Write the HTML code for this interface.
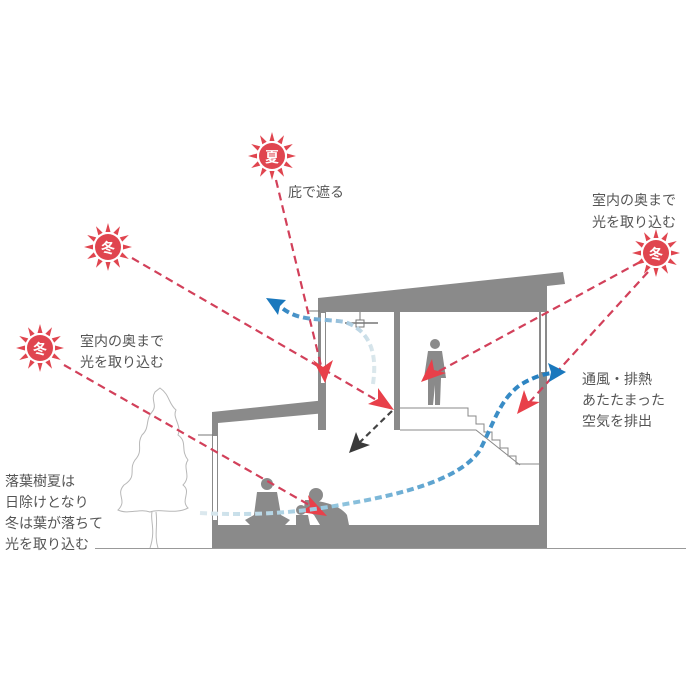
<!DOCTYPE html>
<html><head><meta charset="utf-8"><style>
html,body{margin:0;padding:0;background:#fff;}
svg{display:block;}
text{font-family:"Liberation Sans","Noto Sans CJK JP",sans-serif;fill:#555;font-size:14px;}
</style></head><body>
<svg width="686" height="686" viewBox="0 0 686 686" xmlns="http://www.w3.org/2000/svg">
<defs>
<g id="sun">
 <g fill="#e0454f">
  <polygon points="-2.5,-15 2.5,-15 0,-24"/>
  <polygon points="-2.5,-15 2.5,-15 0,-24" transform="rotate(30)"/>
  <polygon points="-2.5,-15 2.5,-15 0,-24" transform="rotate(60)"/>
  <polygon points="-2.5,-15 2.5,-15 0,-24" transform="rotate(90)"/>
  <polygon points="-2.5,-15 2.5,-15 0,-24" transform="rotate(120)"/>
  <polygon points="-2.5,-15 2.5,-15 0,-24" transform="rotate(150)"/>
  <polygon points="-2.5,-15 2.5,-15 0,-24" transform="rotate(180)"/>
  <polygon points="-2.5,-15 2.5,-15 0,-24" transform="rotate(210)"/>
  <polygon points="-2.5,-15 2.5,-15 0,-24" transform="rotate(240)"/>
  <polygon points="-2.5,-15 2.5,-15 0,-24" transform="rotate(270)"/>
  <polygon points="-2.5,-15 2.5,-15 0,-24" transform="rotate(300)"/>
  <polygon points="-2.5,-15 2.5,-15 0,-24" transform="rotate(330)"/>
  <circle r="13"/>
 </g>
</g>
<linearGradient id="bg1" x1="200" y1="0" x2="560" y2="0" gradientUnits="userSpaceOnUse">
 <stop offset="0" stop-color="#dde9ee"/><stop offset="0.4" stop-color="#8ec3dd"/><stop offset="1" stop-color="#1a78bd"/>
</linearGradient>
<linearGradient id="bg2" x1="375" y1="0" x2="270" y2="0" gradientUnits="userSpaceOnUse">
 <stop offset="0" stop-color="#dce8ec"/><stop offset="1" stop-color="#1a78bd"/>
</linearGradient>
</defs>

<!-- tree -->
<path d="M155,392 C150,400 158,405 152,412 C145,420 150,428 142,435 C136,445 144,450 135,460 C128,470 138,476 124,485 C115,495 128,500 118,510 C128,515 140,508 150,512 C160,508 175,515 188,508 C180,500 192,492 183,485 C192,476 182,468 188,460 C180,450 188,442 178,435 C182,425 172,418 176,410 C168,403 170,395 160,388 Z" fill="none" stroke="#b8b8b8" stroke-width="1"/>
<path d="M152,512 C150,520 156,530 150,548 M156,512 C158,525 154,535 158,548" fill="none" stroke="#b8b8b8" stroke-width="1"/>

<!-- ground line -->
<line x1="95" y1="548.5" x2="686" y2="548.5" stroke="#999" stroke-width="1"/>

<!-- house -->
<g fill="#8a8a8a">
 <polygon points="318,298 563,272 565,284 547,286 547,312 318,312"/>
 <rect x="539" y="284" width="8" height="264"/>
 <rect x="318" y="298" width="8" height="132"/>
 <rect x="394" y="312" width="6" height="118"/>
 <polygon points="212,412 326,400 326,413 218,423 218,548 212,548"/>
 <rect x="212" y="525" width="333" height="23"/>
</g>
<g fill="#fff">
 <rect x="321" y="313" width="4" height="70"/>
 <rect x="541" y="312" width="4" height="60"/>
 <rect x="213" y="436" width="4" height="84"/>
</g>
<line x1="198" y1="435" x2="213" y2="435" stroke="#777" stroke-width="1"/>
<line x1="308" y1="311" x2="320" y2="311" stroke="#777" stroke-width="1"/>
<!-- ceiling fan -->
<line x1="360" y1="312" x2="360" y2="320" stroke="#777"/>
<rect x="356" y="320" width="8" height="7" fill="#fff" stroke="#777"/>
<line x1="345" y1="323" x2="378" y2="323" stroke="#777" stroke-width="1.5"/>
<!-- stairs -->
<path d="M400,408 H468 V416 H476 V424 H484 V432 H492 V440 H500 V448 H508 V456 H516 V464 H540 M400,430 H476 L520,465" fill="none" stroke="#888" stroke-width="1"/>

<!-- people -->
<g fill="#8a8a8a">
 <circle cx="435" cy="344" r="5"/>
 <path d="M428,351 H442 L446,378 H441 L440,405 H435 L435,385 L433,405 H428 L428,378 H424 Z"/>
 <circle cx="267" cy="484" r="6"/>
 <path d="M257,492 H277 L281,515 L290,520 L285,525 H250 L245,520 L254,515 Z"/>
 <circle cx="316" cy="495" r="7"/>
 <path d="M305,500 C320,500 340,505 347,515 L349,525 H320 L314,515 L304,508 Z"/>
 <circle cx="301" cy="510" r="5"/>
 <path d="M296,515 H308 L310,525 H296 Z"/>
</g>

<!-- red dashed rays -->
<g fill="none" stroke="#d2405a" stroke-width="2.2" stroke-dasharray="8,5">
 <line x1="276" y1="180" x2="323" y2="374"/>
 <line x1="132" y1="258" x2="385" y2="405"/>
 <line x1="64" y1="365" x2="318" y2="510"/>
 <line x1="640" y1="262" x2="432" y2="375"/>
 <line x1="648" y1="272" x2="526" y2="406"/>
</g>
<g fill="#e8404a">
 <polygon points="325,383 313,360 323,367 333,360"/>
 <polygon points="394,410 368,404 378,399 378,388"/>
 <polygon points="327,516 300,512 310,506 308,495"/>
 <polygon points="421,382 432,359 434,370 446,373"/>
 <polygon points="517,414 524,390 528,401 540,402"/>
</g>
<!-- black arrow -->
<line x1="392" y1="411" x2="358" y2="444" stroke="#444" stroke-width="2.2" stroke-dasharray="6,4"/>
<polygon points="349,453 356,432 360,442 370,445" fill="#3a3a3a"/>

<!-- blue flows -->
<path d="M200,513 C260,516 300,512 340,505 C400,495 460,480 480,450 C495,420 500,400 520,385 C535,376 545,374 552,373" fill="none" stroke="url(#bg1)" stroke-width="4" stroke-dasharray="7,4"/>
<polygon points="566,372 548,363 551,372 549,382" fill="#1a78bd"/>
<path d="M373,384 C378,350 368,330 345,322 C320,318 300,322 282,308" fill="none" stroke="url(#bg2)" stroke-width="4" stroke-dasharray="7,4"/>
<polygon points="266,298 286,300 280,306 278,315" fill="#1a78bd"/>

<!-- suns -->
<use href="#sun" x="272" y="156"/>
<use href="#sun" x="108" y="247"/>
<use href="#sun" x="40" y="348"/>
<use href="#sun" x="656" y="253"/>
<g font-size="14" font-weight="bold" text-anchor="middle">
 <text x="272" y="162" style="fill:#fff;font-weight:bold">夏</text>
 <text x="108" y="253" style="fill:#fff;font-weight:bold">冬</text>
 <text x="40" y="354" style="fill:#fff;font-weight:bold">冬</text>
 <text x="656" y="259" style="fill:#fff;font-weight:bold">冬</text>
</g>

<!-- labels -->
<text x="288" y="197">庇で遮る</text>
<text x="592" y="205">室内の奥まで</text>
<text x="592" y="227">光を取り込む</text>
<text x="80" y="346">室内の奥まで</text>
<text x="80" y="367">光を取り込む</text>
<text x="582" y="384">通風・排熱</text>
<text x="582" y="405">あたたまった</text>
<text x="582" y="426">空気を排出</text>
<text x="5" y="486">落葉樹夏は</text>
<text x="5" y="507">日除けとなり</text>
<text x="5" y="528">冬は葉が落ちて</text>
<text x="5" y="549">光を取り込む</text>
</svg>
</body></html>
